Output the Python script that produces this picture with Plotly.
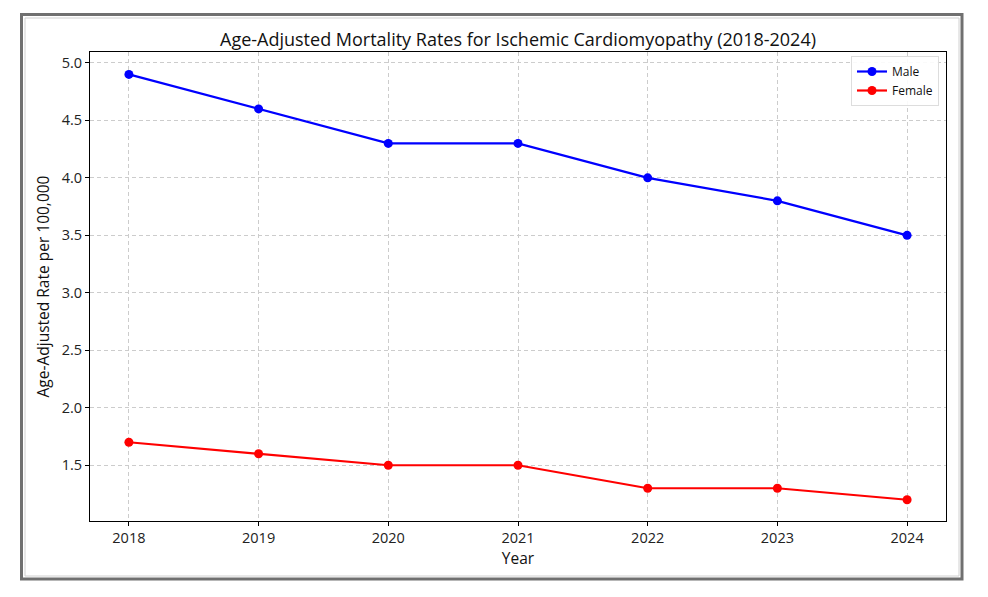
import plotly.graph_objects as go

years = [2018, 2019, 2020, 2021, 2022, 2023, 2024]
male = [4.9, 4.6, 4.3, 4.3, 4.0, 3.8, 3.5]
female = [1.7, 1.6, 1.5, 1.5, 1.3, 1.3, 1.2]

FONT = "Open Sans"
L, R, T, B = 90, 42, 52, 76
W, H = 988, 597
pw, ph = W - L - R, H - T - B

def px(x):
    return (x - L) / pw

def py(y):
    return (H - B - y) / ph

fig = go.Figure()
fig.add_trace(go.Scatter(x=years, y=male, mode="lines+markers", name="Male",
                         line=dict(color="#0000ff", width=2.2),
                         marker=dict(size=9, color="#0000ff")))
fig.add_trace(go.Scatter(x=years, y=female, mode="lines+markers", name="Female",
                         line=dict(color="#ff0000", width=2.2),
                         marker=dict(size=9, color="#ff0000")))

axis_common = dict(showline=True, linecolor="black", linewidth=1, mirror=True,
                   ticks="outside", ticklen=4, tickcolor="black",
                   showgrid=True, gridcolor="#cccccc", griddash="4px,3px", gridwidth=1,
                   zeroline=False, tickfont=dict(family=FONT, size=14.5, color="#222"))

fig.update_layout(
    width=W, height=H,
    margin=dict(l=L, r=R, t=T, b=B),
    paper_bgcolor="white", plot_bgcolor="white",
    title=dict(text="Age-Adjusted Mortality Rates for Ischemic Cardiomyopathy (2018-2024)",
               x=(518) / W, xanchor="center", y=1 - 40 / H, yanchor="middle",
               font=dict(family=FONT, size=18, color="#111")),
    xaxis=dict(range=[2017.7, 2024.3], tickmode="array", tickvals=years,
               ticktext=[str(y) for y in years],
               title=dict(text="Year", font=dict(family=FONT, size=15.5, color="#111"), standoff=0),
               **axis_common),
    yaxis=dict(range=[1.015, 5.095], tickmode="array",
               tickvals=[1.5, 2.0, 2.5, 3.0, 3.5, 4.0, 4.5, 5.0],
               ticktext=["1.5", "2.0", "2.5", "3.0", "3.5", "4.0", "4.5", "5.0"],
               title=dict(text="Age-Adjusted Rate per 100,000", font=dict(family=FONT, size=15.5, color="#111"), standoff=8),
               **axis_common),
    legend=dict(x=px(939), xanchor="right", y=py(56), yanchor="top",
                bgcolor="rgba(255,255,255,0.9)", bordercolor="#dddddd", borderwidth=1,
                font=dict(family=FONT, size=12, color="#111"),
                itemwidth=30, tracegroupgap=0),
    showlegend=True,
)

fig.add_shape(type="rect", xref="paper", yref="paper",
              x0=px(21.5), x1=px(962), y0=py(14.5), y1=py(579),
              line=dict(color="#707070", width=3), fillcolor="rgba(0,0,0,0)", layer="below")
fig.add_shape(type="rect", xref="paper", yref="paper",
              x0=px(25), x1=px(959), y0=py(18), y1=py(576),
              line=dict(color="#d0d0d0", width=1), fillcolor="rgba(0,0,0,0)", layer="below")

fig.write_html("out.html")
